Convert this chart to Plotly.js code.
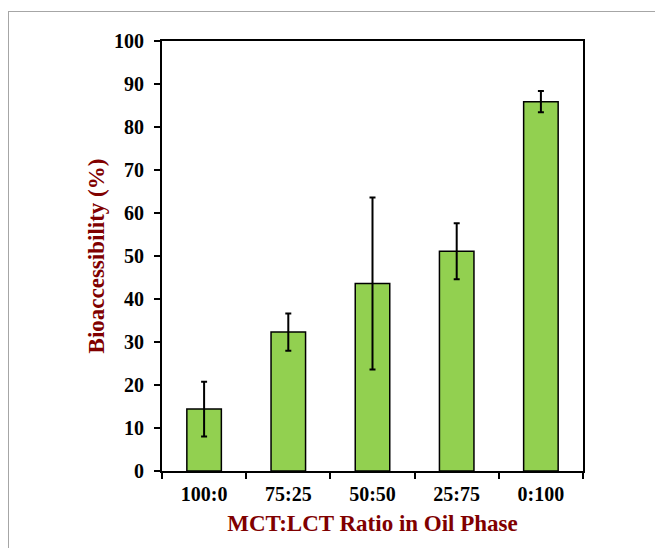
<!DOCTYPE html>
<html>
<head>
<meta charset="utf-8">
<script src="https://cdn.plot.ly/plotly-3.0.1.min.js"></script>
<style>
html,body{margin:0;padding:0;width:655px;height:548px;overflow:hidden;background:#fff;}
#frame{position:absolute;left:8px;top:11px;width:700px;height:600px;border:1px solid #a6a6a6;box-sizing:border-box;}
#chart{position:absolute;left:0;top:0;width:655px;height:548px;}
</style>
</head>
<body>
<div id="frame"></div>
<div id="chart"></div>
<script>
const categories = ["100:0", "75:25", "50:50", "25:75", "0:100"];
const bioaccessibility = [14.4, 32.3, 43.6, 51.1, 85.9];
const errorValues = [6.35, 4.35, 20.0, 6.5, 2.45];
const yTicks = [0, 10, 20, 30, 40, 50, 60, 70, 80, 90, 100];

const trace = {
  type: "bar",
  x: categories,
  y: bioaccessibility,
  marker: {color: "#92D050", line: {color: "#000000", width: 1.5}},
  error_y: {type: "data", array: errorValues, visible: true, color: "#000000", thickness: 2, width: 3},
  hoverinfo: "none"
};

const layout = {
  width: 655, height: 548,
  margin: {l: 162, r: 72, t: 41, b: 77, pad: 0},
  paper_bgcolor: "rgba(0,0,0,0)",
  plot_bgcolor: "rgba(0,0,0,0)",
  bargap: 0.59,
  showlegend: false,
  font: {family: "Liberation Serif, Times New Roman, serif", color: "#000"},
  xaxis: {
    type: "category",
    showline: true, linecolor: "#000", linewidth: 2, mirror: true,
    ticks: "outside", tickson: "boundaries", ticklen: 6, tickwidth: 2, tickcolor: "#000",
    tickfont: {size: 20, family: "Liberation Serif, serif", weight: "bold"},
    ticklabelstandoff: 4,
    title: {text: "<b>MCT:LCT Ratio in Oil Phase</b>", font: {size: 23, color: "#800000", family: "Liberation Serif, serif"}, standoff: 11},
    showgrid: false, zeroline: false
  },
  yaxis: {
    range: [0, 100],
    tickvals: yTicks,
    showline: true, linecolor: "#000", linewidth: 2, mirror: true,
    ticks: "outside", ticklen: 6, tickwidth: 2, tickcolor: "#000",
    tickfont: {size: 20, family: "Liberation Serif, serif", weight: "bold"},
    ticklabelstandoff: 6,
    title: {text: "<b>Bioaccessibility (%)</b>", font: {size: 23, color: "#800000", family: "Liberation Serif, serif"}, standoff: 3},
    showgrid: false, zeroline: false
  }
};

Plotly.newPlot("chart", [trace], layout, {staticPlot: true, displayModeBar: false});
</script>
</body>
</html>
